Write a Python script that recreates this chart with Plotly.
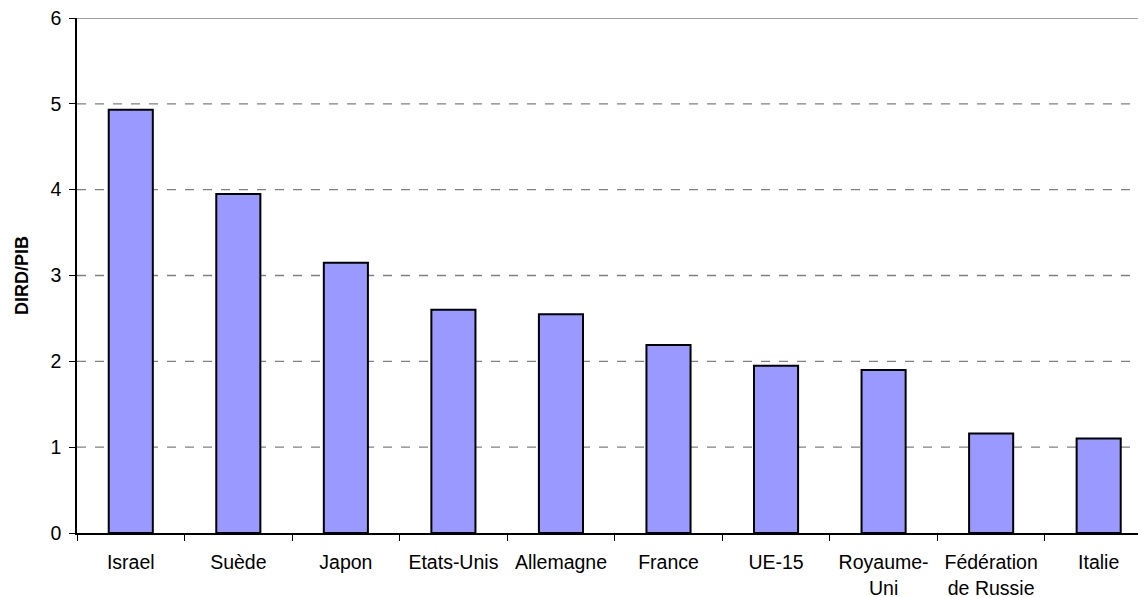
import plotly.graph_objects as go

categories = ["Israel", "Suède", "Japon", "Etats-Unis", "Allemagne", "France",
              "UE-15", "Royaume-<br>Uni", "Fédération<br>de Russie", "Italie"]
values = [4.93, 3.95, 3.15, 2.60, 2.55, 2.19, 1.95, 1.90, 1.16, 1.10]
y_ticks = [0, 1, 2, 3, 4, 5, 6]

fig = go.Figure()
fig.add_trace(go.Bar(
    x=categories, y=values, width=0.41,
    marker=dict(color="#9999FF", line=dict(color="black", width=2)),
))

for v in y_ticks[1:-1]:
    fig.add_shape(type="line", xref="paper", x0=0, x1=1, yref="y", y0=v, y1=v,
                  line=dict(color="#808080", width=1.3, dash="dash"), layer="below")
fig.add_shape(type="line", xref="paper", x0=0, x1=1, yref="y", y0=6, y1=6,
              line=dict(color="#808080", width=1.5), layer="below")

fig.update_layout(
    width=1138, height=589,
    margin=dict(l=69, r=0, t=10, b=64, autoexpand=False),
    plot_bgcolor="white", paper_bgcolor="white",
    font=dict(family="Arial, Liberation Sans, sans-serif", size=19.5, color="black"),
    showlegend=False,
    xaxis=dict(range=[-0.5, 9.44], showline=True, linecolor="black", linewidth=1.5,
               ticks="outside", tickson="boundaries", ticklen=6, tickcolor="black",
               tickfont=dict(size=19.5), showgrid=False, automargin=False,
               ticklabelstandoff=11),
    yaxis=dict(range=[0, 6], tickvals=y_ticks, showline=True, linecolor="black",
               linewidth=1.5, ticks="outside", ticklen=6, tickcolor="black",
               showgrid=False, zeroline=False, tickfont=dict(size=19.5),
               automargin=False, ticklabelstandoff=4, ticklabeloverflow="allow",
               title=dict(text="<b>DIRD/PIB</b>", font=dict(size=18), standoff=17)),
)

fig.write_html("out.html")
